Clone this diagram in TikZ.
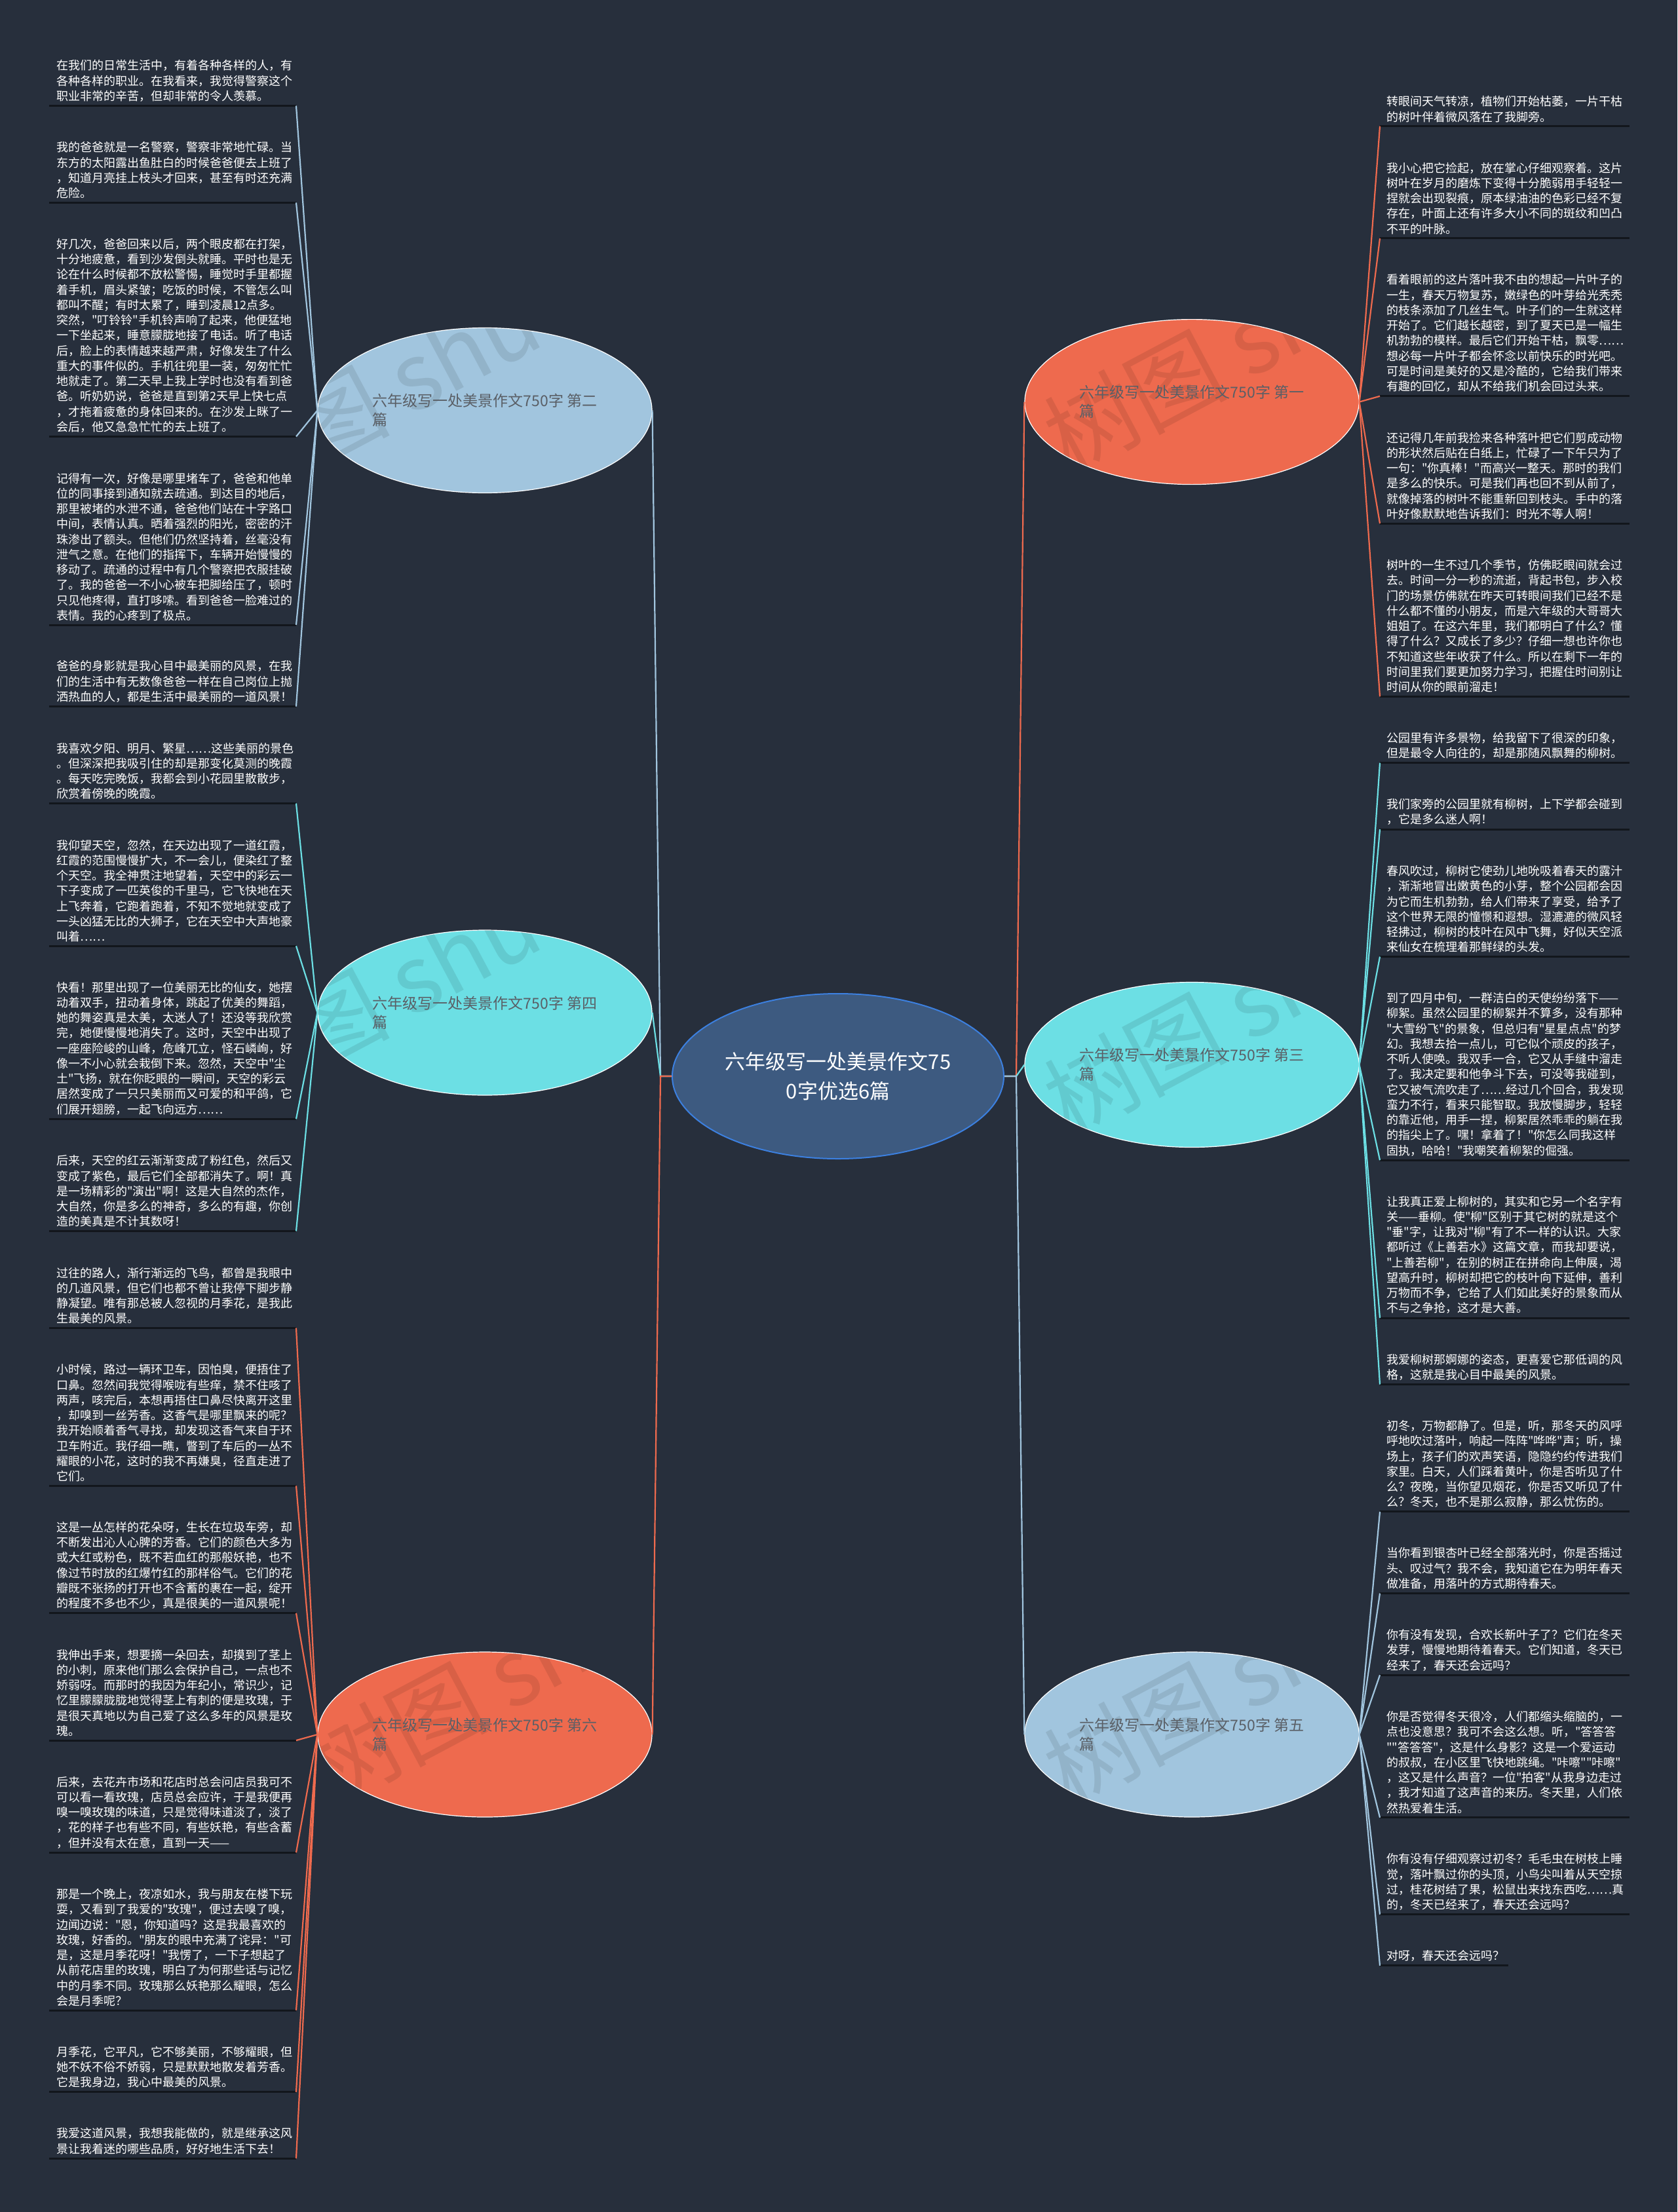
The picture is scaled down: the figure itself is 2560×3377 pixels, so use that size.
\documentclass[tikz,border=0pt]{standalone}
\usepackage{fontspec}
\setmainfont{Noto Sans CJK SC}[Ligatures=TeXOff]
\usetikzlibrary{shapes.geometric}
\definecolor{bgcol}{HTML}{272F3C}
\definecolor{ulcol}{HTML}{12161C}
\definecolor{cOr}{HTML}{EE6A4E}
\definecolor{cCy}{HTML}{6CDFE4}
\definecolor{cLb}{HTML}{A1C5DE}
\definecolor{cFill}{HTML}{3D5A80}
\definecolor{cEdge}{HTML}{3C80E0}
\definecolor{btextcol}{HTML}{5A5F66}
\tikzset{
  leaf/.style={anchor=south west, inner sep=0pt, align=left, text=white, font=\fontsize{18}{23.25}\selectfont},
  uline/.style={draw=ulcol, line width=3pt},
  branch/.style={ellipse, minimum width=510pt, minimum height=252pt, inner sep=0pt, draw=white, line width=1.2pt},
  btext/.style={align=left, text=btextcol, inner sep=0pt, font=\fontsize{23}{29}\selectfont},
  conn/.style={line width=2.2pt},
  wm/.style={anchor=west, rotate=28, inner sep=0pt, text=black, text opacity=0.09, font=\fontsize{140}{140}\selectfont},
}
\newcommand\leafL[3]{%
  \coordinate (e#1) at (452,#2);
  \draw[uline] (75,#2) -- (e#1);
  \node[leaf] (#1) at (86,#2-6) {#3};}
\newcommand\leafR[3]{%
  \coordinate (e#1) at (2106,#2);
  \draw[uline] (e#1) -- (2487,#2);
  \node[leaf] (#1) at (2116,#2-6) {#3};}
\begin{document}
\begin{tikzpicture}[x=1pt,y=-1pt]
\fill[bgcol] (0,0) rectangle (2560,3377);
\useasboundingbox (0,0) rectangle (2560,3377);

% ---------- left leaves ----------
\leafL{L1}{161.5}{在我们的日常生活中，有着各种各样的人，有\\各种各样的职业。在我看来，我觉得警察这个\\职业非常的辛苦，但却非常的令人羡慕。}
\leafL{L2}{309.4}{我的爸爸就是一名警察，警察非常地忙碌。当\\东方的太阳露出鱼肚白的时候爸爸便去上班了\\，知道月亮挂上枝头才回来，甚至有时还充满\\危险。}
\leafL{L3}{666.5}{好几次，爸爸回来以后，两个眼皮都在打架，\\十分地疲惫，看到沙发倒头就睡。平时也是无\\论在什么时候都不放松警惕，睡觉时手里都握\\着手机，眉头紧皱；吃饭的时候，不管怎么叫\\都叫不醒；有时太累了，睡到凌晨12点多。\\突然，"叮铃铃"手机铃声响了起来，他便猛地\\一下坐起来，睡意朦胧地接了电话。听了电话\\后，脸上的表情越来越严肃，好像发生了什么\\重大的事件似的。手机往兜里一装，匆匆忙忙\\地就走了。第二天早上我上学时也没有看到爸\\爸。听奶奶说，爸爸是直到第2天早上快七点\\，才拖着疲惫的身体回来的。在沙发上眯了一\\会后，他又急急忙忙的去上班了。}
\leafL{L4}{954}{记得有一次，好像是哪里堵车了，爸爸和他单\\位的同事接到通知就去疏通。到达目的地后，\\那里被堵的水泄不通，爸爸他们站在十字路口\\中间，表情认真。晒着强烈的阳光，密密的汗\\珠渗出了额头。但他们仍然坚持着，丝毫没有\\泄气之意。在他们的指挥下，车辆开始慢慢的\\移动了。疏通的过程中有几个警察把衣服挂破\\了。我的爸爸一不小心被车把脚给压了，顿时\\只见他疼得，直打哆嗦。看到爸爸一脸难过的\\表情。我的心疼到了极点。}
\leafL{L5}{1078.6}{爸爸的身影就是我心目中最美丽的风景，在我\\们的生活中有无数像爸爸一样在自己岗位上抛\\洒热血的人，都是生活中最美丽的一道风景！}
\leafL{L6}{1226.5}{我喜欢夕阳、明月、繁星……这些美丽的景色\\。但深深把我吸引住的却是那变化莫测的晚霞\\。每天吃完晚饭，我都会到小花园里散散步，\\欣赏着傍晚的晚霞。}
\leafL{L7}{1444.2}{我仰望天空，忽然，在天边出现了一道红霞，\\红霞的范围慢慢扩大，不一会儿，便染红了整\\个天空。我全神贯注地望着，天空中的彩云一\\下子变成了一匹英俊的千里马，它飞快地在天\\上飞奔着，它跑着跑着，不知不觉地就变成了\\一头凶猛无比的大狮子，它在天空中大声地豪\\叫着……}
\leafL{L8}{1708.3}{快看！那里出现了一位美丽无比的仙女，她摆\\动着双手，扭动着身体，跳起了优美的舞蹈，\\她的舞姿真是太美，太迷人了！还没等我欣赏\\完，她便慢慢地消失了。这时，天空中出现了\\一座座险峻的山峰，危峰兀立，怪石嶙峋，好\\像一不小心就会栽倒下来。忽然，天空中"尘\\土"飞扬，就在你眨眼的一瞬间，天空的彩云\\居然变成了一只只美丽而又可爱的和平鸽，它\\们展开翅膀，一起飞向远方……}
\leafL{L9}{1879.5}{后来，天空的红云渐渐变成了粉红色，然后又\\变成了紫色，最后它们全部都消失了。啊！真\\是一场精彩的"演出"啊！这是大自然的杰作，\\大自然，你是多么的神奇，多么的有趣，你创\\造的美真是不计其数呀！}
\leafL{L10}{2027.4}{过往的路人，渐行渐远的飞鸟，都曾是我眼中\\的几道风景，但它们也都不曾让我停下脚步静\\静凝望。唯有那总被人忽视的月季花，是我此\\生最美的风景。}
\leafL{L11}{2268.3}{小时候，路过一辆环卫车，因怕臭，便捂住了\\口鼻。忽然间我觉得喉咙有些痒，禁不住咳了\\两声，咳完后，本想再捂住口鼻尽快离开这里\\，却嗅到一丝芳香。这香气是哪里飘来的呢？\\我开始顺着香气寻找，却发现这香气来自于环\\卫车附近。我仔细一瞧，瞥到了车后的一丛不\\耀眼的小花，这时的我不再嫌臭，径直走进了\\它们。}
\leafL{L12}{2462.7}{这是一丛怎样的花朵呀，生长在垃圾车旁，却\\不断发出沁人心脾的芳香。它们的颜色大多为\\或大红或粉色，既不若血红的那般妖艳，也不\\像过节时放的红爆竹红的那样俗气。它们的花\\瓣既不张扬的打开也不含蓄的裹在一起，绽开\\的程度不多也不少，真是很美的一道风景呢！}
\leafL{L13}{2657}{我伸出手来，想要摘一朵回去，却摸到了茎上\\的小刺，原来他们那么会保护自己，一点也不\\娇弱呀。而那时的我因为年纪小，常识少，记\\忆里朦朦胧胧地觉得茎上有刺的便是玫瑰，于\\是很天真地以为自己爱了这么多年的风景是玫\\瑰。}
\leafL{L14}{2828.2}{后来，去花卉市场和花店时总会问店员我可不\\可以看一看玫瑰，店员总会应许，于是我便再\\嗅一嗅玫瑰的味道，只是觉得味道淡了，淡了\\，花的样子也有些不同，有些妖艳，有些含蓄\\，但并没有太在意，直到一天——}
\leafL{L15}{3069.1}{那是一个晚上，夜凉如水，我与朋友在楼下玩\\耍，又看到了我爱的"玫瑰"，便过去嗅了嗅，\\边闻边说："恩，你知道吗？这是我最喜欢的\\玫瑰，好香的。"朋友的眼中充满了诧异："可\\是，这是月季花呀！"我愣了，一下子想起了\\从前花店里的玫瑰，明白了为何那些话与记忆\\中的月季不同。玫瑰那么妖艳那么耀眼，怎么\\会是月季呢？}
\leafL{L16}{3193.8}{月季花，它平凡，它不够美丽，不够耀眼，但\\她不妖不俗不娇弱，只是默默地散发着芳香。\\它是我身边，我心中最美的风景。}
\leafL{L17}{3295.2}{我爱这道风景，我想我能做的，就是继承这风\\景让我着迷的哪些品质，好好地生活下去！}

% ---------- right leaves ----------
\leafR{R1}{192.7}{转眼间天气转凉，植物们开始枯萎，一片干枯\\的树叶伴着微风落在了我脚旁。}
\leafR{R2}{363.9}{我小心把它捡起，放在掌心仔细观察着。这片\\树叶在岁月的磨炼下变得十分脆弱用手轻轻一\\捏就会出现裂痕，原本绿油油的色彩已经不复\\存在，叶面上还有许多大小不同的斑纹和凹凸\\不平的叶脉。}
\leafR{R3}{604.8}{看着眼前的这片落叶我不由的想起一片叶子的\\一生，春天万物复苏，嫩绿色的叶芽给光秃秃\\的枝条添加了几丝生气。叶子们的一生就这样\\开始了。它们越长越密，到了夏天已是一幅生\\机勃勃的模样。最后它们开始干枯，飘零……\\想必每一片叶子都会怀念以前快乐的时光吧。\\可是时间是美好的又是冷酷的，它给我们带来\\有趣的回忆，却从不给我们机会回过头来。}
\leafR{R4}{799.2}{还记得几年前我捡来各种落叶把它们剪成动物\\的形状然后贴在白纸上，忙碌了一下午只为了\\一句："你真棒！"而高兴一整天。那时的我们\\是多么的快乐。可是我们再也回不到从前了，\\就像掉落的树叶不能重新回到枝头。手中的落\\叶好像默默地告诉我们：时光不等人啊！}
\leafR{R5}{1063.3}{树叶的一生不过几个季节，仿佛眨眼间就会过\\去。时间一分一秒的流逝，背起书包，步入校\\门的场景仿佛就在昨天可转眼间我们已经不是\\什么都不懂的小朋友，而是六年级的大哥哥大\\姐姐了。在这六年里，我们都明白了什么？懂\\得了什么？又成长了多少？仔细一想也许你也\\不知道这些年收获了什么。所以在剩下一年的\\时间里我们要更加努力学习，把握住时间别让\\时间从你的眼前溜走！}
\leafR{R6}{1164.7}{公园里有许多景物，给我留下了很深的印象，\\但是最令人向往的，却是那随风飘舞的柳树。}
\leafR{R7}{1266.1}{我们家旁的公园里就有柳树，上下学都会碰到\\，它是多么迷人啊！}
\leafR{R8}{1460.5}{春风吹过，柳树它使劲儿地吮吸着春天的露汁\\，渐渐地冒出嫩黄色的小芽，整个公园都会因\\为它而生机勃勃，给人们带来了享受，给予了\\这个世界无限的憧憬和遐想。湿漉漉的微风轻\\轻拂过，柳树的枝叶在风中飞舞，好似天空派\\来仙女在梳理着那鲜绿的头发。}
\leafR{R9}{1771.2}{到了四月中旬，一群洁白的天使纷纷落下——\\柳絮。虽然公园里的柳絮并不算多，没有那种\\"大雪纷飞"的景象，但总归有"星星点点"的梦\\幻。我想去拾一点儿，可它似个顽皮的孩子，\\不听人使唤。我双手一合，它又从手缝中溜走\\了。我决定要和他争斗下去，可没等我碰到，\\它又被气流吹走了……经过几个回合，我发现\\蛮力不行，看来只能智取。我放慢脚步，轻轻\\的靠近他，用手一捏，柳絮居然乖乖的躺在我\\的指尖上了。嘿！拿着了！"你怎么同我这样\\固执，哈哈！"我嘲笑着柳絮的倔强。}
\leafR{R10}{2012.1}{让我真正爱上柳树的，其实和它另一个名字有\\关——垂柳。使"柳"区别于其它树的就是这个\\"垂"字，让我对"柳"有了不一样的认识。大家\\都听过《上善若水》这篇文章，而我却要说，\\"上善若柳"，在别的树正在拼命向上伸展，渴\\望高升时，柳树却把它的枝叶向下延伸，善利\\万物而不争，它给了人们如此美好的景象而从\\不与之争抢，这才是大善。}
\leafR{R11}{2113.5}{我爱柳树那婀娜的姿态，更喜爱它那低调的风\\格，这就是我心目中最美的风景。}
\leafR{R12}{2307.9}{初冬，万物都静了。但是，听，那冬天的风呼\\呼地吹过落叶，响起一阵阵"哗哗"声；听，操\\场上，孩子们的欢声笑语，隐隐约约传进我们\\家里。白天，人们踩着黄叶，你是否听见了什\\么？夜晚，当你望见烟花，你是否又听见了什\\么？冬天，也不是那么寂静，那么忧伤的。}
\leafR{R13}{2432.5}{当你看到银杏叶已经全部落光时，你是否摇过\\头、叹过气？我不会，我知道它在为明年春天\\做准备，用落叶的方式期待春天。}
\leafR{R14}{2557.2}{你有没有发现，合欢长新叶子了？它们在冬天\\发芽，慢慢地期待着春天。它们知道，冬天已\\经来了，春天还会远吗？}
\leafR{R15}{2774.8}{你是否觉得冬天很冷，人们都缩头缩脑的，一\\点也没意思？我可不会这么想。听，"答答答\\""答答答"，这是什么身影？这是一个爱运动\\的叔叔，在小区里飞快地跳绳。"咔嚓""咔嚓"\\，这又是什么声音？一位"拍客"从我身边走过\\，我才知道了这声音的来历。冬天里，人们依\\然热爱着生活。}
\leafR{R16}{2922.7}{你有没有仔细观察过初冬？毛毛虫在树枝上睡\\觉，落叶飘过你的头顶，小鸟尖叫着从天空掠\\过，桂花树结了果，松鼠出来找东西吃……真\\的，冬天已经来了，春天还会远吗？}
\coordinate (eR17) at (2106,3000.9);
\draw[uline] (eR17) -- (2302,3000.9);
\node[leaf] (R17) at (2116,2994.9) {对呀，春天还会远吗？};

% ---------- center ----------
\node[ellipse, minimum width=506pt, minimum height=252pt, inner sep=0pt, fill=cFill, draw=cEdge, line width=2pt] (c) at (1279,1643) {};
\node[align=center, text=white, inner sep=0pt, font=\fontsize{31}{45}\selectfont] (ct) at (c.center) {六年级写一处美景作文75\\0字优选6篇};

% ---------- branches ----------
\node[branch, fill=cLb] (b2) at (740,626.5) {};
\node[branch, fill=cCy] (b4) at (740,1546) {};
\node[branch, fill=cOr] (b6) at (740,2648) {};
\node[branch, fill=cOr] (b1) at (1819,613.6) {};
\node[branch, fill=cCy] (b3) at (1819,1625.5) {};
\node[branch, fill=cLb] (b5) at (1819,2648) {};

% watermarks (faint, clipped to the ellipses)
\begin{scope}\clip (740,626.5) ellipse [x radius=255, y radius=126];
\node[wm] (w2) at (328,734) {树图 shutu.cn};\end{scope}
\begin{scope}\clip (740,1546) ellipse [x radius=255, y radius=126];
\node[wm] (w4) at (328,1654) {树图 shutu.cn};\end{scope}
\begin{scope}\clip (740,2648) ellipse [x radius=255, y radius=126];
\node[wm] (w6) at (478,2713) {树图 shutu.cn};\end{scope}
\begin{scope}\clip (1819,613.6) ellipse [x radius=255, y radius=126];
\node[wm] (w1) at (1606,679) {树图 shutu.cn};\end{scope}
\begin{scope}\clip (1819,1625.5) ellipse [x radius=255, y radius=126];
\node[wm] (w3) at (1606,1691) {树图 shutu.cn};\end{scope}
\begin{scope}\clip (1819,2648) ellipse [x radius=255, y radius=126];
\node[wm] (w5) at (1606,2713) {树图 shutu.cn};\end{scope}

\node[btext] (t2) at (b2.center) {六年级写一处美景作文750字 第二\\篇};
\node[btext] (t4) at (b4.center) {六年级写一处美景作文750字 第四\\篇};
\node[btext] (t6) at (b6.center) {六年级写一处美景作文750字 第六\\篇};
\node[btext] (t1) at (b1.center) {六年级写一处美景作文750字 第一\\篇};
\node[btext] (t3) at (b3.center) {六年级写一处美景作文750字 第三\\篇};
\node[btext] (t5) at (b5.center) {六年级写一处美景作文750字 第五\\篇};

% ---------- center connectors ----------
\coordinate (jl) at (1008,1643);
\coordinate (jr) at (1551,1643);
\draw[conn, cLb] (c.west) -- (jl) -- (b2.east);
\draw[conn, cCy] (c.west) -- (jl) -- (b4.east);
\draw[conn, cOr] (c.west) -- (jl) -- (b6.east);
\draw[conn, cOr] (c.east) -- (jr) -- (b1.west);
\draw[conn, cCy] (c.east) -- (jr) -- (b3.west);
\draw[conn, cLb] (c.east) -- (jr) -- (b5.west);

% ---------- leaf connectors ----------
\foreach \n in {L1,L2,L3,L4,L5} \draw[conn, cLb] (b2.west) -- (e\n);
\foreach \n in {L6,L7,L8,L9} \draw[conn, cCy] (b4.west) -- (e\n);
\foreach \n in {L10,L11,L12,L13,L14,L15,L16,L17} \draw[conn, cOr] (b6.west) -- (e\n);
\foreach \n in {R1,R2,R3,R4,R5} \draw[conn, cOr] (b1.east) -- (e\n);
\foreach \n in {R6,R7,R8,R9,R10,R11} \draw[conn, cCy] (b3.east) -- (e\n);
\foreach \n in {R12,R13,R14,R15,R16,R17} \draw[conn, cLb] (b5.east) -- (e\n);
\end{tikzpicture}
\end{document}
